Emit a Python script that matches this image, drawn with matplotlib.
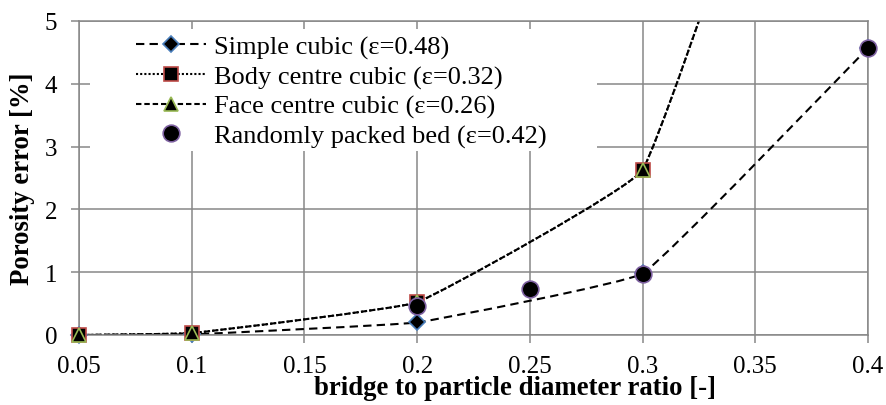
import numpy as np
import matplotlib
matplotlib.use('Agg')
import matplotlib.pyplot as plt
from matplotlib.path import Path
from matplotlib.patches import PathPatch, Rectangle
from matplotlib.lines import Line2D

plt.rcParams['font.family'] = 'serif'
plt.rcParams['font.serif'] = ['Liberation Serif', 'Times New Roman', 'DejaVu Serif']

## data
ratio = [0.05, 0.1, 0.2, 0.3, 0.4]
simple_cubic = [0.0, 0.01, 0.2, 0.98, 4.57]
body_centre = [0.0, 0.03, 0.52, 2.63, 13.0]
face_centre = [0.0, 0.03, 0.52, 2.63, 13.0]

random_ratio = [0.2, 0.25, 0.3, 0.4]
random_bed = [0.46, 0.74, 0.97, 4.57]

labels = ['Simple cubic (\u03b5=0.48)', 'Body centre cubic (\u03b5=0.32)',
          'Face centre cubic (\u03b5=0.26)', 'Randomly packed bed (\u03b5=0.42)']

xticks = [0.05, 0.1, 0.15, 0.2, 0.25, 0.3, 0.35, 0.4]
xticklabels = ['0.05', '0.1', '0.15', '0.2', '0.25', '0.3', '0.35', '0.4']
yticks = [0, 1, 2, 3, 4, 5]

grid_col = '#878787'


def smooth_path(ax, xs, ys, k=0.08):
    # excel-like smoothed line: cubic bezier through the points, built in pixel space
    pts = ax.transData.transform(np.column_stack([xs, ys]))
    n = len(pts)
    tang = []
    for i in range(n):
        if i == 0:
            d = pts[1] - pts[0]
        elif i == n - 1:
            d = pts[-1] - pts[-2]
        else:
            d = pts[i + 1] - pts[i - 1]
        tang.append(d / np.hypot(*d))
    verts = [pts[0]]
    codes = [Path.MOVETO]
    for i in range(n - 1):
        L = np.hypot(*(pts[i + 1] - pts[i]))
        verts += [pts[i] + tang[i] * L * k, pts[i + 1] - tang[i + 1] * L * k, pts[i + 1]]
        codes += [Path.CURVE4] * 3
    verts = ax.transData.inverted().transform(np.array(verts))
    return Path(verts, codes)


fig = plt.figure(figsize=(8.86, 4.06), dpi=100)
ax = fig.add_axes([79 / 886, 1 - 336 / 406, 789 / 886, 314 / 406])
ax.set_xlim(0.05, 0.4)
ax.set_ylim(0, 5)

ax.set_axisbelow(True)
ax.grid(True, color=grid_col, lw=1.1)
for s in ax.spines.values():
    s.set_color(grid_col)
    s.set_linewidth(1.1)
ax.tick_params(direction='out', length=5.5, width=1.1, color=grid_col,
               labelsize=18)
ax.tick_params(axis='x', pad=9)
ax.tick_params(axis='y', pad=10)
ax.set_xticks(xticks)
ax.set_xticklabels(xticklabels)
ax.set_yticks(yticks)

ax.set_xlabel('bridge to particle diameter ratio [-]', fontsize=19.3,
              fontweight='bold', va='top')
ax.xaxis.set_label_coords((515 - 79) / 789, (336 - 376) / 314)
ax.set_ylabel('Porosity error [%]', fontsize=19.3, fontweight='bold')
ax.yaxis.set_label_coords((35 - 79) / 789, 0.5)

# white block behind the legend, hides the grid
ax.add_patch(Rectangle(((90 - 79) / 789, (336 - 152) / 314), (597 - 90) / 789,
                       (152 - 30) / 314, transform=ax.transAxes, fc='white',
                       ec='none', zorder=1))

styles = [
    dict(data=simple_cubic, ls=(0, (4, 2.5)), marker='D', ms=8.5, mec='#4A7EBB'),
    dict(data=body_centre, ls=(0, (1, 1)), marker='s', ms=9.5, mec='#BE4B48'),
    dict(data=face_centre, ls=(0, (2.6, 1.4)), marker='^', ms=9.5, mec='#98B954'),
]

handles = []
for st in styles:
    p = smooth_path(ax, ratio, st['data'])
    ax.add_patch(PathPatch(p, fc='none', ec='black', lw=1.5,
                           ls=st['ls'], zorder=2))
    ax.plot(ratio, st['data'], ls='none', marker=st['marker'], ms=st['ms'],
            mfc='black', mec=st['mec'], mew=1.2, zorder=3, clip_on=False)
    handles.append(Line2D([], [], color='black', lw=1.5, ls=st['ls'],
                          marker=st['marker'], ms=st['ms'], mfc='black',
                          mec=st['mec'], mew=1.2))

ax.plot(random_ratio, random_bed, ls='none', marker='o', ms=12, mfc='black',
        mec='#7D60A0', mew=1.2, zorder=4, clip_on=False)
handles.append(Line2D([], [], ls='none', marker='o', ms=12, mfc='black',
                      mec='#7D60A0', mew=1.2))

ax.legend(handles, labels, loc='upper left',
          bbox_to_anchor=((136 - 79) / 789, (336 - 36) / 314),
          frameon=False, fontsize=19, handlelength=2.65, handletextpad=0.3,
          labelspacing=0.22, borderpad=0, borderaxespad=0)

fig.savefig('out.png', dpi=100)
